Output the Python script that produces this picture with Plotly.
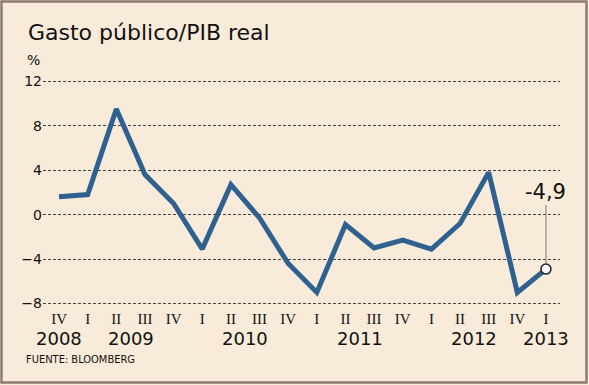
import plotly.graph_objects as go

quarters = ["IV", "I", "II", "III", "IV", "I", "II", "III", "IV",
            "I", "II", "III", "IV", "I", "II", "III", "IV", "I"]
years_of_q = [2008, 2009, 2009, 2009, 2009, 2010, 2010, 2010, 2010,
              2011, 2011, 2011, 2011, 2012, 2012, 2012, 2012, 2013]
values = [1.6, 1.8, 9.5, 3.6, 1.0, -3.1, 2.7, -0.3, -4.4,
          -7.0, -0.9, -3.0, -2.3, -3.1, -0.8, 3.8, -7.0, -4.9]
y_ticks = [12, 8, 4, 0, -4, -8]

W, H = 589, 385
L, R, T, B = 43, 29, 79, 77
PW, PH = W - L - R, H - T - B


def px(p):
    return (p - L) / PW


def py(p):
    return (H - B - p) / PH


x = list(range(len(values)))
BG = "#f9ebd9"
LINE = "#2e6190"
FONT = "DejaVu Sans"
TXT = "#111111"

fig = go.Figure()
fig.add_trace(go.Scatter(x=x, y=values, mode="lines",
                         line=dict(color=LINE, width=5), hoverinfo="skip"))
fig.add_trace(go.Scatter(x=[x[-1]], y=[values[-1]], mode="markers",
                         marker=dict(size=10, color="white",
                                     line=dict(color="#222222", width=1.5)),
                         hoverinfo="skip"))

# last value callout
last_label = "{:.1f}".format(values[-1]).replace(".", ",")
fig.add_annotation(x=x[-1], y=values[-1], ax=x[-1], ay=1.0,
                   axref="x", ayref="y", xref="x", yref="y",
                   showarrow=True, arrowhead=0, arrowwidth=1,
                   arrowcolor="#777777", standoff=5, text="")
fig.add_annotation(x=x[-1], y=1.0, xref="x", yref="y", text=last_label,
                   showarrow=False, yanchor="bottom", yshift=-2,
                   font=dict(family=FONT, size=21, color=TXT))

# year labels centred under their quarters
for yr in sorted(set(years_of_q)):
    idx = [i for i, v in enumerate(years_of_q) if v == yr]
    fig.add_annotation(x=sum(idx) / len(idx), y=py(338), xref="x", yref="paper",
                       text=str(yr), showarrow=False, yanchor="middle",
                       font=dict(family=FONT, size=18, color=TXT))

fig.add_annotation(x=px(26), y=py(33), xref="paper", yref="paper",
                   text="Gasto público/PIB real", showarrow=False,
                   xanchor="left", yanchor="middle",
                   font=dict(family=FONT, size=22, color=TXT))
fig.add_annotation(x=px(33), y=py(60), xref="paper", yref="paper",
                   text="%", showarrow=False, xanchor="center", yanchor="middle",
                   font=dict(family=FONT, size=14, color=TXT))
fig.add_annotation(x=px(24), y=py(359), xref="paper", yref="paper",
                   text="FUENTE: BLOOMBERG", showarrow=False, xanchor="left",
                   yanchor="middle",
                   font=dict(family="DejaVu Sans Condensed, DejaVu Sans", size=11,
                             color=TXT))

fig.update_layout(
    width=W, height=H,
    paper_bgcolor=BG, plot_bgcolor=BG,
    margin=dict(l=L, r=R, t=T, b=B),
    showlegend=False,
    xaxis=dict(range=[-0.56, 17.49], tickvals=x, ticktext=quarters,
               showgrid=False, zeroline=False, showline=False,
               ticks="", tickangle=0,
               tickfont=dict(family="Liberation Serif", size=15, color=TXT)),
    yaxis=dict(range=[-8.4, 12.2], tickvals=y_ticks,
               showgrid=True, gridcolor="#444444", gridwidth=1, griddash="3px,2px",
               zeroline=False, showline=False, ticks="",
               tickfont=dict(family=FONT, size=14, color=TXT)),
    shapes=[dict(type="rect", xref="paper", yref="paper",
                 x0=px(1.5), y0=py(382.5), x1=px(586.5), y1=py(1.5),
                 line=dict(color="#8c7b70", width=2.5), fillcolor="rgba(0,0,0,0)",
                 layer="above")],
)

fig.write_html("out.html", config={"displayModeBar": False},
               post_script="document.body.style.margin='0';")
